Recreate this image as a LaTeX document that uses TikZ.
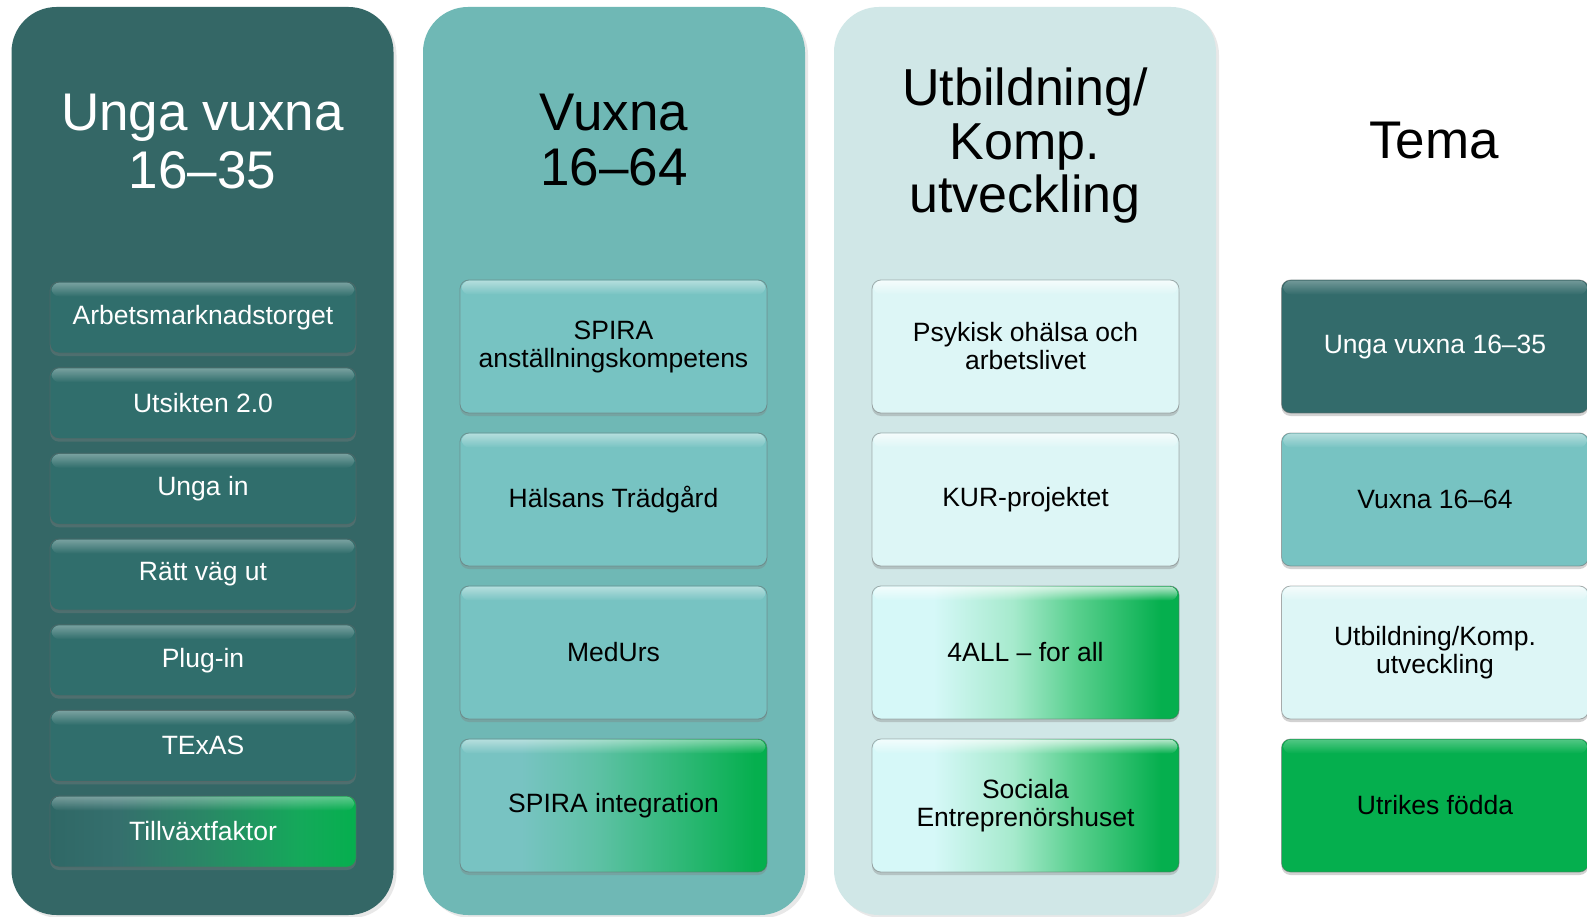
\documentclass[tikz,border=0pt]{standalone}
\usepackage{fontspec}
\setmainfont{Liberation Sans}
\usetikzlibrary{shadows,fadings}
\definecolor{cAbg}{HTML}{346766}
\definecolor{cAbox}{HTML}{306E6C}
\definecolor{cBbg}{HTML}{6FB8B5}
\definecolor{cBbox}{HTML}{77C3C2}
\definecolor{cCbg}{HTML}{D0E7E7}
\definecolor{cCbox}{HTML}{DDF6F6}
\definecolor{temaA}{HTML}{336B6B}
\definecolor{grn}{HTML}{05AF4E}
\definecolor{tealA}{HTML}{2F6866}
\definecolor{tealB}{HTML}{356F6D}
\definecolor{tealC}{HTML}{2A8766}
\definecolor{grnA}{HTML}{14A95A}
\definecolor{cyA}{HTML}{D6F8F8}
\definecolor{mintA}{HTML}{A6EACD}
\definecolor{mintB}{HTML}{5AD08F}
\definecolor{aqA}{HTML}{78C3C2}
\definecolor{aqB}{HTML}{5FC1A6}
\definecolor{aqC}{HTML}{3CBB84}
\tikzfading[name=topglow, top color=transparent!0, bottom color=transparent!100]
\pgfdeclarehorizontalshading{gTeal}{100bp}{color(0bp)=(tealA); color(25bp)=(tealA); color(36bp)=(tealB); color(50bp)=(tealC); color(66bp)=(grnA); color(75bp)=(grn); color(100bp)=(grn)}
\pgfdeclarehorizontalshading{gAqua}{100bp}{color(0bp)=(aqA); color(25bp)=(aqA); color(35bp)=(aqA); color(47bp)=(aqB); color(57bp)=(aqC); color(73bp)=(grn); color(100bp)=(grn)}
\pgfdeclarehorizontalshading{gCyan}{100bp}{color(0bp)=(cyA); color(25bp)=(cyA); color(35bp)=(cyA); color(48bp)=(mintA); color(58bp)=(mintB); color(72bp)=(grn); color(100bp)=(grn)}
\tikzset{
  colbox/.style={rounded corners=45pt, minimum width=382pt, minimum height=908pt, inner sep=0pt,
    drop shadow={shadow xshift=3pt, shadow yshift=-3pt, opacity=0.18}},
  ttl/.style={anchor=north, align=center, inner sep=0pt},
  bx/.style={rounded corners=9pt, inner sep=0pt, align=center,
    font=\fontsize{26.5}{28}\selectfont,
    draw=black!60, draw opacity=0.5, line width=0.8pt,
    drop shadow={shadow xshift=0pt, shadow yshift=-3pt, opacity=0.35}},
  sbx/.style={bx, minimum width=306pt, minimum height=71pt},
  lbx/.style={bx, minimum width=307pt, minimum height=133pt},
}
\newcommand\glossy[2]{\fill[white, fill opacity=#2, path fading=topglow, rounded corners=8pt]
  ([xshift=2pt,yshift=-1pt]#1.north west) rectangle ([xshift=-2pt,yshift=-15pt]#1.north east);}
\begin{document}
\begin{tikzpicture}[x=1pt, y=-1pt]
\useasboundingbox (0,0) rectangle (1587,917);
\fill[white] (0,0) rectangle (1587,917);
% columns
\node[colbox, fill=cAbg] (col1) at (202.5,461) {};
\node[colbox, fill=cBbg] (col2) at (614,461) {};
\node[colbox, fill=cCbg] (col3) at (1025,461) {};
% titles
\node[ttl, text=white, font=\fontsize{53}{58}\selectfont] (t1) at (202.5,94) {Unga vuxna\\16–35};
\node[ttl, text=black, font=\fontsize{53}{55}\selectfont] (t2) at (614,94) {Vuxna\\16–64};
\node[ttl, text=black, font=\fontsize{52}{53.5}\selectfont] (t3) at (1025,68) {Utbildning/\\Komp.\\utveckling};
\node[ttl, text=black, font=\fontsize{53}{60}\selectfont] (t4) at (1434,122) {Tema};
% column 1 boxes
\foreach \i/\t in {0/Arbetsmarknadstorget,1/Utsikten 2.0,2/Unga in,3/Rätt väg ut,4/Plug-in,5/TExAS}{
  \node[sbx, fill=cAbox, text=white] (a\i) at (203,{317.5+85.67*\i}) {\t};
  \glossy{a\i}{0.35}
}
\node[sbx, shading=gTeal, text=white] (a6) at (203,831.5) {Tillväxtfaktor};
\glossy{a6}{0.35}
% column 2 boxes
\node[lbx, fill=cBbox] (b0) at (613.5,346.5) {SPIRA\\anställningskompetens};
\node[lbx, fill=cBbox] (b1) at (613.5,499.5) {Hälsans Trädgård};
\node[lbx, fill=cBbox] (b2) at (613.5,652.5) {MedUrs};
\node[lbx, shading=gAqua] (b3) at (613.5,805.5) {SPIRA integration};
\foreach \n in {b0,b1,b2,b3}{\glossy{\n}{0.45}}
% column 3 boxes
\node[lbx, fill=cCbox] (c0) at (1025.5,346.5) {Psykisk ohälsa och\\arbetslivet};
\node[lbx, fill=cCbox] (c1) at (1025.5,499.5) {KUR-projektet};
\node[lbx, shading=gCyan] (c2) at (1025.5,652.5) {4ALL – for all};
\node[lbx, shading=gCyan] (c3) at (1025.5,805.5) {Sociala\\Entreprenörshuset};
\foreach \n in {c0,c1,c2,c3}{\glossy{\n}{0.7}}
% Tema boxes
\node[lbx, fill=temaA, text=white] (d0) at (1435,346.5) {Unga vuxna 16–35};
\node[lbx, fill=cBbox] (d1) at (1435,499.5) {Vuxna 16–64};
\node[lbx, fill=cCbox] (d2) at (1435,652.5) {Utbildning/Komp.\\utveckling};
\node[lbx, fill=grn] (d3) at (1435,805.5) {Utrikes födda};
\glossy{d0}{0.3}\glossy{d1}{0.45}\glossy{d2}{0.7}\glossy{d3}{0.3}
\end{tikzpicture}
\end{document}
